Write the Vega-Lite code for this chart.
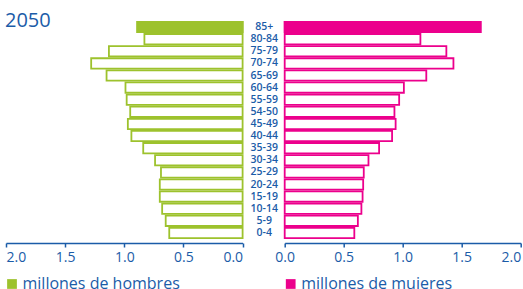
{
  "$schema": "https://vega.github.io/schema/vega-lite/v6.json",
  "background": "white",
  "padding": {"left": 4, "top": 11, "right": 2, "bottom": 0},
  "title": {"text": "2050", "anchor": "start", "fontSize": 20, "font": "Open Sans", "fontWeight": "normal", "color": "#1b5ca8", "offset": -10, "dx": 1},
  "datasets": {
    "piramide": [
      {"edad": "85+", "hombres": 0.89, "mujeres": 1.66},
      {"edad": "80-84", "hombres": 0.83, "mujeres": 1.15},
      {"edad": "75-79", "hombres": 1.13, "mujeres": 1.37},
      {"edad": "70-74", "hombres": 1.28, "mujeres": 1.43},
      {"edad": "65-69", "hombres": 1.15, "mujeres": 1.2},
      {"edad": "60-64", "hombres": 0.99, "mujeres": 1.01},
      {"edad": "55-59", "hombres": 0.98, "mujeres": 0.97},
      {"edad": "54-50", "hombres": 0.95, "mujeres": 0.93},
      {"edad": "45-49", "hombres": 0.97, "mujeres": 0.94},
      {"edad": "40-44", "hombres": 0.94, "mujeres": 0.91},
      {"edad": "35-39", "hombres": 0.84, "mujeres": 0.8},
      {"edad": "30-34", "hombres": 0.74, "mujeres": 0.71},
      {"edad": "25-29", "hombres": 0.69, "mujeres": 0.67},
      {"edad": "20-24", "hombres": 0.7, "mujeres": 0.665},
      {"edad": "15-19", "hombres": 0.7, "mujeres": 0.66},
      {"edad": "10-14", "hombres": 0.68, "mujeres": 0.65},
      {"edad": "5-9", "hombres": 0.65, "mujeres": 0.62},
      {"edad": "0-4", "hombres": 0.62, "mujeres": 0.59}
    ]
  },
  "spacing": 41.7,
  "bounds": "flush",
  "hconcat": [
    {
      "width": 236.6,
      "height": 218,
      "data": {"name": "piramide"},
      "encoding": {
        "y": {"field": "edad", "type": "nominal", "sort": null, "axis": null, "scale": {"paddingInner": 0.15, "paddingOuter": 0.075}},
        "x": {"field": "hombres", "type": "quantitative", "scale": {"domain": [0, 2], "reverse": true, "nice": false}, "axis": {"values": [0, 0.5, 1, 1.5, 2], "format": ".1f", "title": null, "labelFlush": true, "grid": false, "offset": 4}}
      },
      "layer": [
        {
          "mark": {"type": "bar", "strokeWidth": 1.8, "stroke": "#9dc22d", "fill": "white"}
        },
        {
          "transform": [{"filter": "datum.edad === '85+'"}],
          "mark": {"type": "bar", "strokeWidth": 1.8, "stroke": "#9dc22d"},
          "encoding": {
            "fill": {"datum": "millones de hombres", "type": "nominal", "scale": {"range": ["#9dc22d"]}, "legend": {"orient": "none", "legendX": -2, "legendY": 255, "padding": 0, "title": null, "symbolType": "square", "symbolSize": 95, "symbolStrokeWidth": 0, "symbolOffset": 0, "symbolOpacity": 1, "labelFontSize": 16, "labelColor": "#1b5ca8", "labelOffset": 2.5, "labelFont": "Open Sans"}}
          }
        }
      ]
    },
    {
      "width": 236,
      "height": 218,
      "data": {"name": "piramide"},
      "encoding": {
        "y": {"field": "edad", "type": "nominal", "sort": null, "scale": {"paddingInner": 0.15, "paddingOuter": 0.075}, "axis": {"orient": "left", "title": null, "domain": false, "ticks": false, "labelAlign": "center", "labelPadding": 21, "labelFontSize": 10.5, "labelColor": "#1b5ca8", "labelFontWeight": 600, "labelBaseline": "middle"}},
        "x": {"field": "mujeres", "type": "quantitative", "scale": {"domain": [0, 2], "nice": false}, "axis": {"values": [0, 0.5, 1, 1.5, 2], "format": ".1f", "title": null, "grid": false, "offset": 4, "labelAlign": {"expr": "datum.value == 2 ? 'right' : 'center'"}}}
      },
      "layer": [
        {
          "mark": {"type": "bar", "strokeWidth": 1.8, "stroke": "#ec008c", "fill": "white"}
        },
        {
          "transform": [{"filter": "datum.edad === '85+'"}],
          "mark": {"type": "bar", "strokeWidth": 1.8, "stroke": "#ec008c"},
          "encoding": {
            "fill": {"datum": "millones de muieres", "type": "nominal", "scale": {"range": ["#ec008c"]}, "legend": {"orient": "none", "legendX": -2, "legendY": 255, "padding": 0, "title": null, "symbolType": "square", "symbolSize": 95, "symbolStrokeWidth": 0, "symbolOffset": 0, "symbolOpacity": 1, "labelFontSize": 16, "labelColor": "#1b5ca8", "labelOffset": 2.5, "labelFont": "Open Sans"}}
          }
        }
      ]
    }
  ],
  "resolve": {"scale": {"x": "independent", "y": "independent", "fill": "independent"}, "legend": {"fill": "independent"}},
  "config": {
    "view": {"stroke": null},
    "font": "Open Sans",
    "axis": {"domainColor": "#1b5ca8", "domainWidth": 1.5, "tickColor": "#1b5ca8", "tickWidth": 1.5, "tickSize": 4, "labelColor": "#1b5ca8", "labelFontSize": 14, "labelPadding": 3, "labelFont": "Open Sans"}
  }
}
